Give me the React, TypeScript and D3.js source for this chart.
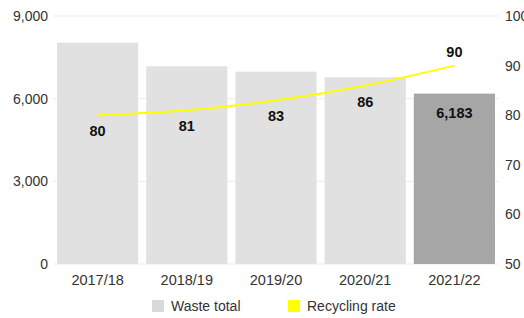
import React from "react";
import * as d3 from "d3";

const categories = ["2017/18", "2018/19", "2019/20", "2020/21", "2021/22"];
const wasteTotal = [8030, 7175, 6980, 6775, 6183];
const recyclingRate = [80, 81, 83, 86, 90];
const leftTicks = [0, 3000, 6000, 9000];
const rightTicks = [50, 60, 70, 80, 90, 100];
const legendItems = ["Waste total", "Recycling rate"];

const W = 524, H = 318;
const m = { left: 53, right: 25, top: 16, bottom: 54 };

export default function App() {
  const x = d3.scaleBand<string>().domain(categories).range([m.left, W - m.right]).paddingInner(0.09).paddingOuter(0.045);
  const yL = d3.scaleLinear().domain([0, 9000]).range([H - m.bottom, m.top]);
  const yR = d3.scaleLinear().domain([50, 100]).range([H - m.bottom, m.top]);
  const fmt = d3.format(",");
  const cx = (c: string) => (x(c) as number) + x.bandwidth() / 2;
  const line = d3.line<number>().x((_, i) => cx(categories[i])).y((d) => yR(d)).curve(d3.curveMonotoneX);
  const font = "'Liberation Sans', Arial, Helvetica, sans-serif";
  const last = categories.length - 1;
  return (
    <svg width={W} height={H} style={{ position: "absolute", left: 0, top: 0 }} fontFamily={font}>
      <rect width={W} height={H} fill="#fff" />
      {leftTicks.map((t) => (
        <g key={t}>
          <line x1={m.left} x2={W - m.right} y1={yL(t)} y2={yL(t)} stroke="#ebebeb" strokeWidth={1} />
          <text x={48} y={yL(t)} dy="0.35em" textAnchor="end" fontSize={14} fill="#333">{fmt(t)}</text>
        </g>
      ))}
      {rightTicks.map((t) => (
        <text key={t} x={505} y={yR(t)} dy="0.35em" fontSize={14} fill="#333">{t}</text>
      ))}
      {categories.map((c, i) => (
        <rect key={c} x={x(c)} y={yL(wasteTotal[i])} width={x.bandwidth()} height={yL(0) - yL(wasteTotal[i])} fill={i === last ? "#a6a6a6" : "#e1e1e1"} />
      ))}
      <path d={line(recyclingRate) || ""} fill="none" stroke="#ffff00" strokeWidth={2} />
      {categories.map((c, i) => (
        <text key={c} x={cx(c)} y={yR(recyclingRate[i]) + (i === last ? -14 : 16)} dy="0.35em" textAnchor="middle" fontSize={14.5} fontWeight="bold" fill="#111">
          {recyclingRate[i]}
        </text>
      ))}
      <text x={cx(categories[last])} y={113} dy="0.35em" textAnchor="middle" fontSize={14.5} fontWeight="bold" fill="#111">{fmt(wasteTotal[last])}</text>
      {categories.map((c) => (
        <text key={c} x={cx(c)} y={280} dy="0.35em" textAnchor="middle" fontSize={14.5} fill="#333">{c}</text>
      ))}
      <rect x={152} y={300} width={12} height={12} fill="#d9d9d9" />
      <text x={171} y={306} dy="0.35em" fontSize={14} fill="#333">{legendItems[0]}</text>
      <rect x={288} y={300} width={12} height={12} fill="#ffff00" />
      <text x={307} y={306} dy="0.35em" fontSize={14} fill="#333">{legendItems[1]}</text>
    </svg>
  );
}
